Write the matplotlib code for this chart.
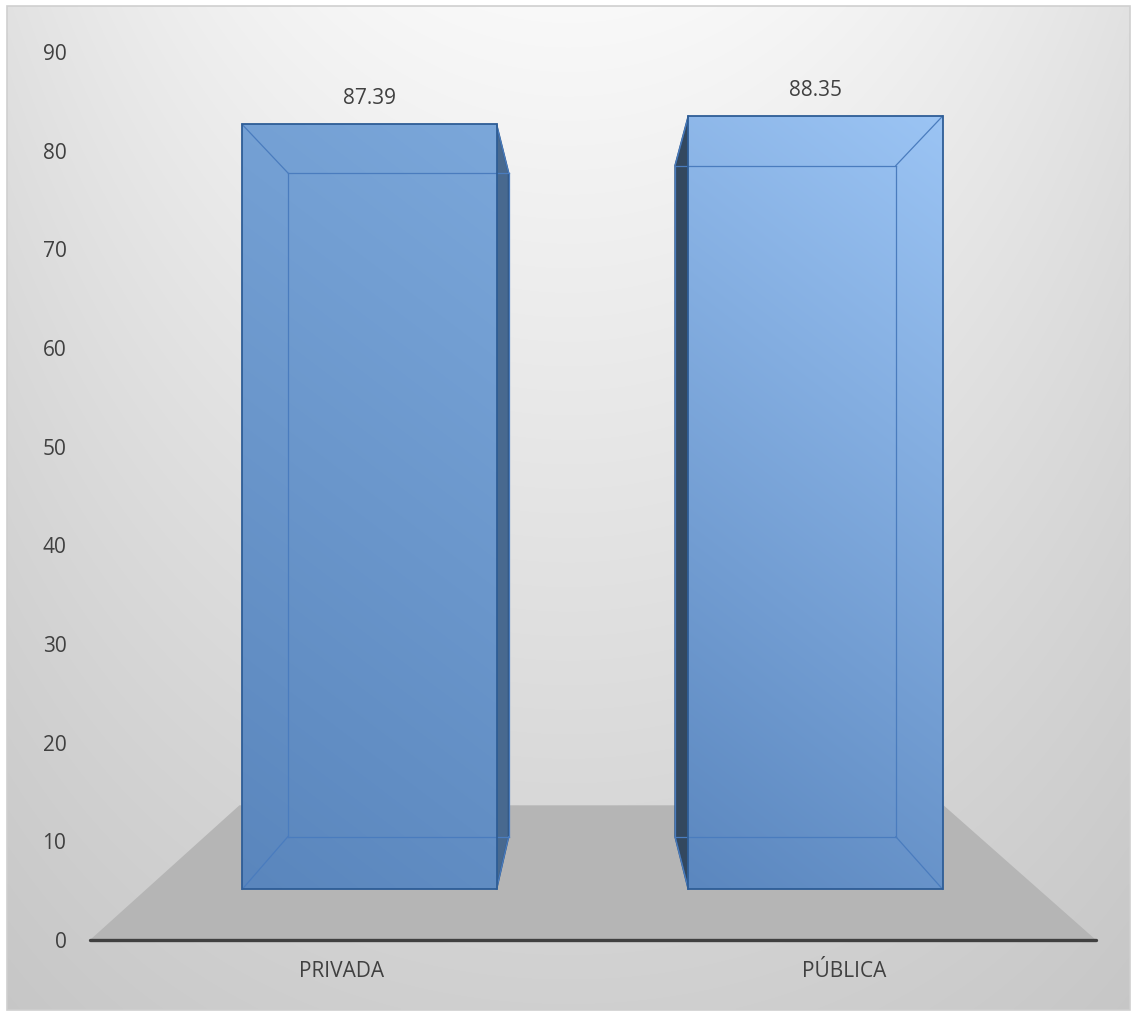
import matplotlib
matplotlib.use('Agg')
import matplotlib.pyplot as plt
import numpy as np
from matplotlib.colors import to_rgb
from matplotlib.patches import Polygon, Rectangle

categories = ['PRIVADA', 'PÚBLICA']
values = [87.39, 88.35]
y_ticks = [0, 10, 20, 30, 40, 50, 60, 70, 80, 90]

# colours of each bar: (bottom, top, side face)
face_bottom = ['#5a86bd', '#5b87bf']
face_top = ['#7ba7da', '#9bc4f4']
side_colors = ['#48698f', '#33485f']

# perspective set-up of the 3D look (data units of the front plane)
VPX, VPY = 0.49, 45.5
D_FLOOR_BACK = 0.70
D_BAR_FRONT = 0.887
D_BAR_BACK = 0.77
BAR_WIDTH = 0.57

TEXT = '#404040'
plt.rcParams['font.family'] = ['Open Sans', 'DejaVu Sans']


def project(x, v, d):
    return VPX + d * (x - VPX), VPY + d * (v - VPY)


def gradient(ax, poly, c_bot, c_top, box):
    x0, x1, y0, y1 = box
    h, w = 200, 60
    vv = np.linspace(1, 0, h)[:, None]
    uu = np.linspace(0, 1, w)[None, :]
    g = np.clip(0.8 * vv + 0.2 * uu, 0, 1)
    cb, ct = np.array(to_rgb(c_bot)), np.array(to_rgb(c_top))
    img = cb + g[..., None] * (ct - cb)
    im = ax.imshow(img, extent=(x0, x1, y0, y1), aspect='auto',
                   interpolation='bilinear', zorder=3)
    im.set_clip_path(poly)


fig = plt.figure(figsize=(11.36, 10.14), dpi=100)

# background of the chart area
bg = fig.add_axes([0, 0, 1, 1], zorder=0)
bg.set_xlim(0, 1136)
bg.set_ylim(1014, 0)
bg.axis('off')
u = np.linspace(0, 1, 300)[None, :]
t = np.linspace(0, 1, 300)[:, None]
b = 0.975 - 0.16 * t - 0.09 * (2 * u - 1) ** 2 * (1 - 0.6 * t)
bg.imshow(np.dstack([b, b, b]), extent=(7, 1130, 1010, 6), aspect='auto',
          interpolation='bilinear')
bg.add_patch(Rectangle((7, 6), 1123, 1004, fill=False, edgecolor='#cfcfcf', lw=1.2))
bg.set_xlim(0, 1136)
bg.set_ylim(1014, 0)

ax = fig.add_axes([90 / 1136, 74 / 1014, 1006 / 1136, 888 / 1014], zorder=1)
ax.patch.set_visible(False)

# floor
xl, xr = -0.5, len(categories) - 0.5
fl = [project(xl, 0, 1), project(xr, 0, 1),
      project(xr, 0, D_FLOOR_BACK), project(xl, 0, D_FLOOR_BACK)]
ax.add_patch(Polygon(fl, closed=True, facecolor='#b5b5b5', edgecolor='none', zorder=1))
ax.plot([xl, xr], [0, 0], color='#404040', lw=2.4, solid_capstyle='round',
        clip_on=False, zorder=2)

for i, (cat, val) in enumerate(zip(categories, values)):
    left, right = i - BAR_WIDTH / 2, i + BAR_WIDTH / 2
    fbl = project(left, 0, D_BAR_FRONT)
    fbr = project(right, 0, D_BAR_FRONT)
    ftl = project(left, val, D_BAR_FRONT)
    ftr = project(right, val, D_BAR_FRONT)
    bbl = project(left, 0, D_BAR_BACK)
    bbr = project(right, 0, D_BAR_BACK)
    btl = project(left, val, D_BAR_BACK)
    btr = project(right, val, D_BAR_BACK)

    # visible side face
    if i < VPX:
        side = [fbr, ftr, btr, bbr]
    else:
        side = [fbl, ftl, btl, bbl]
    ax.add_patch(Polygon(side, closed=True, facecolor=side_colors[i],
                         edgecolor='#2f5684', lw=1.2, zorder=3))

    front = Polygon([fbl, fbr, ftr, ftl], closed=True, facecolor='none',
                    edgecolor='none', zorder=3)
    ax.add_patch(front)
    gradient(ax, front, face_bottom[i], face_top[i],
             (fbl[0], fbr[0], fbl[1], ftl[1]))

    # inner (back) edges, seen through the bar
    inner = '#4a7cbe'
    for p, q in [(bbl, bbr), (bbr, btr), (btr, btl), (btl, bbl),
                 (fbl, bbl), (fbr, bbr), (ftl, btl), (ftr, btr)]:
        ax.plot([p[0], q[0]], [p[1], q[1]], color=inner, lw=0.9, zorder=4)

    ax.add_patch(Polygon([fbl, fbr, ftr, ftl], closed=True, facecolor='none',
                         edgecolor='#2e5d96', lw=1.3, zorder=5))

    ax.annotate(f'{val:.2f}', xy=((ftl[0] + ftr[0]) / 2, ftl[1]),
                xytext=(0, 11), textcoords='offset points', ha='center',
                va='bottom', fontsize=15, color=TEXT, zorder=6)

ax.set_xlim(xl, xr)
ax.set_ylim(0, 90)
ax.set_yticks(y_ticks)
ax.set_xticks(range(len(categories)))
ax.set_xticklabels(categories)
ax.tick_params(axis='y', length=0, pad=17, labelsize=15, labelcolor=TEXT)
ax.tick_params(axis='x', length=0, pad=15, labelsize=15, labelcolor=TEXT)
for s in ax.spines.values():
    s.set_visible(False)

fig.savefig('out.png', dpi=100)
